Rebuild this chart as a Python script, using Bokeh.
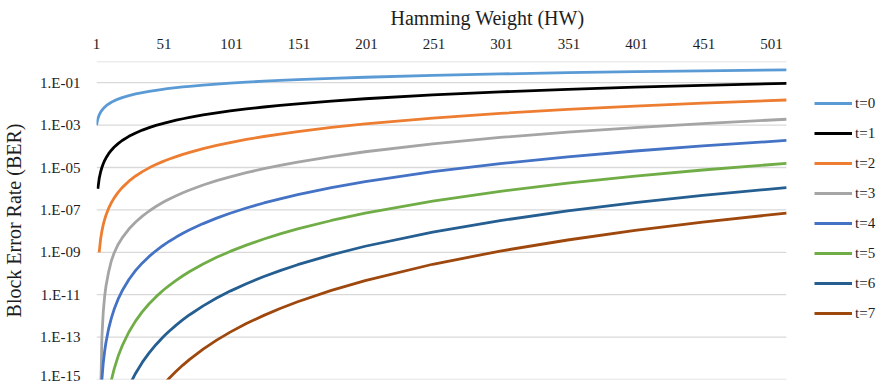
import numpy as np
from bokeh.plotting import figure
from bokeh.models import (Range1d, FixedTicker, CustomJSTickFormatter, Legend,
                          LegendItem, ColumnDataSource)
from bokeh.embed import file_html
from bokeh.resources import INLINE

# ---------------- data ----------------
hw = [1, 2, 3, 4, 5, 6, 7, 8, 10, 12, 14, 17, 20, 25, 30, 35, 40, 45, 50, 52, 55,
      60, 65, 70, 80, 90, 100, 112, 125, 137, 150, 175, 200, 250, 300, 350, 400,
      450, 512]

ber_t0 = [1.0e-3, 2.0e-3, 3.0e-3, 4.0e-3, 5.0e-3, 6.0e-3, 7.0e-3, 8.0e-3, 9.96e-3,
          1.19e-2, 1.39e-2, 1.69e-2, 1.98e-2, 2.47e-2, 2.96e-2, 3.44e-2, 3.92e-2,
          4.40e-2, 4.88e-2, 5.07e-2, 5.35e-2, 5.83e-2, 6.30e-2, 6.76e-2, 7.69e-2,
          8.61e-2, 9.52e-2, 0.106, 0.118, 0.128, 0.139, 0.161, 0.181, 0.221, 0.259,
          0.296, 0.330, 0.363, 0.401]
ber_t1 = [None, 1.0e-6, 3.0e-6, 6.0e-6, 1.0e-5, 1.5e-5, 2.1e-5, 2.8e-5, 4.47e-5,
          6.55e-5, 9.0e-5, 1.34e-4, 1.88e-4, 2.95e-4, 4.27e-4, 5.82e-4, 7.61e-4,
          9.62e-4, 1.186e-3, 1.283e-3, 1.433e-3, 1.703e-3, 1.994e-3, 2.308e-3,
          3.00e-3, 3.778e-3, 4.64e-3, 5.778e-3, 7.14e-3, 8.518e-3, 1.013e-2,
          1.358e-2, 1.747e-2, 2.643e-2, 3.69e-2, 4.86e-2, 6.15e-2, 7.54e-2, 9.38e-2]
ber_t2 = [None, None, 1.0e-9, 4.0e-9, 1.0e-8, 2.0e-8, 3.5e-8, 5.6e-8, 1.19e-7,
          2.18e-7, 3.60e-7, 6.73e-7, 1.125e-6, 2.26e-6, 3.98e-6, 6.39e-6, 9.62e-6,
          1.375e-5, 1.892e-5, 2.13e-5, 2.523e-5, 3.279e-5, 4.17e-5, 5.206e-5,
          7.75e-5, 1.101e-4, 1.504e-4, 2.101e-4, 2.90e-4, 3.793e-4, 4.94e-4,
          7.721e-4, 1.134e-3, 2.140e-3, 3.570e-3, 5.471e-3, 7.879e-3, 1.083e-2,
          1.525e-2]
ber_t3 = [None, None, None, 1.0e-16, 1.0e-13, 1.5e-12, 8.0e-12, 2.5e-11, 1.2e-10,
          4.0e-10, 9.0e-10, 2.35e-9, 4.77e-9, 1.244e-8, 2.684e-8, 5.108e-8, 8.88e-8,
          1.442e-7, 2.220e-7, 2.605e-7, 3.274e-7, 4.663e-7, 6.45e-7, 8.698e-7,
          1.488e-6, 2.386e-6, 3.632e-6, 5.698e-6, 8.80e-6, 1.263e-5, 1.803e-5,
          3.294e-5, 5.53e-5, 1.306e-4, 2.613e-4, 4.667e-4, 7.668e-4, 1.183e-3,
          1.890e-3]
ber_t4 = [None, None, None, 1.0e-17, 1.0e-15, 6.0e-15, 2.1e-14, 5.6e-14, 2.52e-13,
          7.87e-13, 1.99e-12, 6.13e-12, 1.527e-11, 5.225e-11, 1.396e-10, 3.166e-10,
          6.391e-10, 1.182e-9, 2.041e-9, 2.499e-9, 3.337e-9, 5.217e-9, 7.858e-9,
          1.147e-8, 2.258e-8, 4.095e-8, 6.957e-8, 1.227e-7, 2.122e-7, 3.347e-7,
          5.244e-7, 1.121e-6, 2.156e-6, 6.377e-6, 1.533e-5, 3.194e-5, 5.996e-5,
          1.040e-4, 1.889e-4]
ber_t5 = [None, None, None, None, None, None, None, None, 2.1e-16, 9.24e-16,
          3.0e-15, 1.235e-14, 3.82e-14, 1.742e-13, 5.817e-13, 1.583e-12, 3.728e-12,
          7.877e-12, 1.530e-11, 1.957e-11, 2.780e-11, 4.780e-11, 7.853e-11,
          1.241e-10, 2.821e-10, 5.794e-10, 1.100e-9, 2.185e-9, 4.237e-9, 7.346e-9,
          1.264e-8, 3.166e-8, 6.981e-8, 2.591e-7, 7.488e-7, 1.822e-6, 3.913e-6,
          7.633e-6, 1.578e-5]
ber_t6 = [None, None, None, None, None, None, None, None, None, None, None, None,
          None, 4.8e-16, 1.995e-15, 6.562e-15, 1.811e-14, 4.390e-14, 9.62e-14,
          1.286e-13, 1.946e-13, 3.687e-13, 6.617e-13, 1.135e-12, 2.980e-12,
          6.948e-12, 1.476e-11, 3.305e-11, 7.192e-11, 1.373e-10, 2.596e-10,
          7.626e-10, 1.929e-9, 8.999e-9, 3.131e-8, 8.908e-8, 2.188e-7, 4.806e-7,
          1.131e-6]
ber_t7 = [None, None, None, None, None, None, None, None, None, None, None, None,
          None, None, None, None, None, 2.08e-16, 5.15e-16, 7.24e-16, 1.168e-15,
          2.443e-15, 4.798e-15, 8.934e-15, 2.719e-14, 7.207e-14, 1.715e-13,
          4.335e-13, 1.060e-12, 2.229e-12, 4.634e-12, 1.599e-11, 4.646e-11,
          2.727e-10, 1.143e-9, 3.804e-9, 1.070e-8, 2.647e-8, 7.091e-8]

series_names = ["t=0", "t=1", "t=2", "t=3", "t=4", "t=5", "t=6", "t=7"]
series_values = [ber_t0, ber_t1, ber_t2, ber_t3, ber_t4, ber_t5, ber_t6, ber_t7]
series_colors = ["#5B9BD5", "#000000", "#ED7D31", "#A5A5A5",
                 "#4472C4", "#70AD47", "#255E91", "#9E480E"]
for v in series_values:
    assert len(v) == len(hw)

x_ticks = [1, 51, 101, 151, 201, 251, 301, 351, 401, 451, 501]
y_ticks = [1e-15, 1e-13, 1e-11, 1e-9, 1e-7, 1e-5, 1e-3, 1e-1]
y_tick_labels = ["1.E-15", "1.E-13", "1.E-11", "1.E-09",
                 "1.E-07", "1.E-05", "1.E-03", "1.E-01"]
y_min, y_max = 1e-15, 1.0
x_min, x_max = hw[0], hw[-1]

x_title = "Hamming Weight (HW)"
y_title = "Block Error Rate (BER)"

# ---------------- layout ----------------
FONT = "Liberation Serif"
TXT = "#1e1e1e"
W, H = 878, 383
LEFT, TOP, BOTTOM = 90, 61, 4
PLOT_PX = 689                     # width of the data area (x_min..x_max)
FRAME_PX = W - LEFT - 7           # frame continues under the legend
x_end = x_min + (x_max - x_min) * FRAME_PX / PLOT_PX

p = figure(width=W, height=H,
           x_range=Range1d(x_min, x_end), y_range=Range1d(y_min, y_max),
           y_axis_type="log", x_axis_location="above",
           output_backend="svg", toolbar_location=None,
           min_border=0,
           min_border_left=LEFT, min_border_right=0,
           min_border_top=TOP, min_border_bottom=BOTTOM)
p.outline_line_color = None
p.background_fill_color = "white"
p.border_fill_color = "white"

# horizontal gridlines limited to the data area
grid_y = y_ticks + [y_max]
p.segment(x0=[x_min] * len(grid_y), x1=[x_max] * len(grid_y), y0=grid_y, y1=grid_y,
          line_color="#D9D9D9", line_width=1.3)

src = ColumnDataSource({"hw": np.array(hw, dtype=float),
                        **{f"t{i}": np.array(v, dtype=float)
                           for i, v in enumerate(series_values)}})

renderers = []
for i, (name, col) in enumerate(zip(series_names, series_colors)):
    r = p.line(x="hw", y=f"t{i}", source=src, line_color=col, line_width=2.8,
               line_join="round")
    renderers.append(r)

# axes
p.xaxis.ticker = FixedTicker(ticks=x_ticks)
p.xaxis.bounds = (x_min, x_max)
p.yaxis.ticker = FixedTicker(ticks=y_ticks)
p.yaxis.formatter = CustomJSTickFormatter(
    args=dict(yt=y_ticks, yl=y_tick_labels),
    code="""
    let best = 0, bd = 1e9;
    for (let i = 0; i < yt.length; i++) {
        const d = Math.abs(Math.log10(yt[i]) - Math.log10(tick));
        if (d < bd) { bd = d; best = i; }
    }
    return yl[best];
    """)
p.xaxis.axis_label = x_title
p.yaxis.axis_label = y_title

for ax in (p.xaxis[0], p.yaxis[0]):
    ax.axis_line_color = None
    ax.major_tick_line_color = None
    ax.minor_tick_line_color = None
    ax.major_tick_out = 0
    ax.major_tick_in = 0
    ax.minor_tick_out = 0
    ax.minor_tick_in = 0
    ax.major_label_text_font = FONT
    ax.major_label_text_font_size = "15px"
    ax.major_label_text_color = TXT
    ax.axis_label_text_font = FONT
    ax.axis_label_text_font_size = "20px"
    ax.axis_label_text_font_style = "normal"
    ax.axis_label_text_color = TXT

p.xaxis.major_label_standoff = 13
p.xaxis.axis_label_standoff = 7
p.yaxis.major_label_standoff = 16
p.yaxis.axis_label_standoff = 12

p.xgrid.visible = False
p.ygrid.visible = False

# legend (inside the frame, right of the data area)
items = [LegendItem(label=n, renderers=[r]) for n, r in zip(series_names, renderers)]
legend = Legend(items=items, location=(718, 56), orientation="vertical",
                glyph_width=38, glyph_height=20, label_height=20, spacing=10,
                label_standoff=3, padding=0, margin=0,
                border_line_color=None, background_fill_alpha=0,
                label_text_font=FONT, label_text_font_size="15px",
                label_text_color=TXT)
p.add_layout(legend)

open("out.html", "w").write(file_html(p, INLINE))
